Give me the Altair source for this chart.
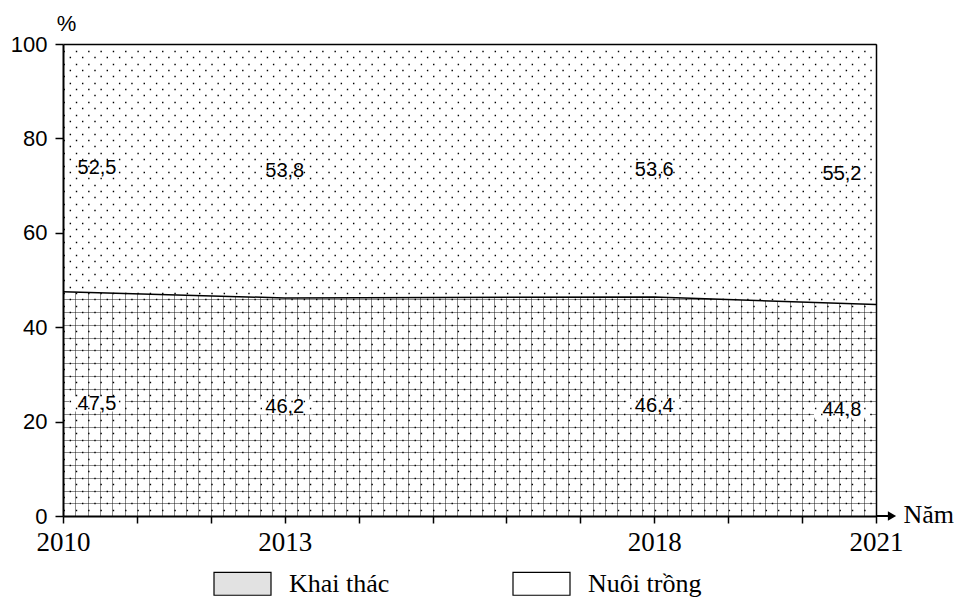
import altair as alt
import pandas as pd

# ---- data ----
years = [2010, 2013, 2018, 2021]
khai_thac = [47.5, 46.2, 46.4, 44.8]
nuoi_trong = [52.5, 53.8, 53.6, 55.2]
series = ["Khai thác", "Nuôi trồng"]
x_ticks = list(range(2010, 2022))
x_labels = [2010, 2013, 2018, 2021]
y_ticks = [0, 20, 40, 60, 80, 100]

df = pd.DataFrame({"year": years, "khai": khai_thac, "nuoi": nuoi_trong})

W, H = 813, 472
P = W / ((2021 - 2010) * 6)          # pixel spacing of the hatch columns
xgrid_vals = [2010 + i / 6 for i in range(67)]
ystep = 2.7
ygrid_vals = [round(ystep * k, 3) for k in range(1, 37)]
ydotB_vals = [round(ystep * k + ystep / 2, 3) for k in range(0, 37) if ystep * k + ystep / 2 < 99]

xscale = alt.Scale(domain=[2010, 2021], nice=False, zero=False)
yscale = alt.Scale(domain=[0, 100], nice=False)

label_expr = f"indexof({x_labels}, datum.value) >= 0 ? format(datum.value, 'd') : ''"

main_x = alt.Axis(
    orient="bottom", values=x_ticks, labelExpr=label_expr, tickSize=7, tickWidth=1.5,
    tickColor="black", domainColor="black", domainWidth=2, labelFont="Liberation Serif",
    labelFontSize=27, labelColor="black", labelPadding=6, labelFlush=False,
    labelOverlap=False, grid=False, title="Năm", titleFont="Liberation Serif",
    titleFontSize=26, titleFontWeight="normal", titleColor="black", titleX=840,
    titleY=-2, titleAlign="left", titleBaseline="middle", zindex=2,
)
main_y = alt.Axis(
    orient="left", values=y_ticks, tickSize=8, tickWidth=1.5, tickColor="black",
    domainColor="black", domainWidth=2, labelFont="Liberation Sans", labelFontSize=22,
    labelColor="black", labelPadding=8, grid=False, title="%", titleAngle=0,
    titleX=3, titleY=-21, titleAlign="center", titleBaseline="middle",
    titleFont="Liberation Sans", titleFontSize=22, titleFontWeight="normal",
    titleColor="black", zindex=2,
)
grid_common = dict(grid=True, domain=False, ticks=False, labels=False, title=None)
gridx = alt.Axis(orient="bottom", values=xgrid_vals, gridDash=[1, 1], gridColor="black",
                 gridWidth=1, gridOpacity=0.9, **grid_common)
gridy = alt.Axis(orient="left", values=ygrid_vals, gridDash=[1, 1], gridColor="black",
                 gridWidth=1, gridOpacity=0.9, **grid_common)
dotsA = alt.Axis(orient="left", values=ygrid_vals, gridDash=[1.4, P - 1.4],
                 gridDashOffset=P / 2, gridColor="black", gridWidth=1.4, zindex=1,
                 **grid_common)
dotsB = alt.Axis(orient="left", values=ydotB_vals, gridDash=[1.4, P - 1.4],
                 gridDashOffset=0, gridColor="black", gridWidth=1.4, zindex=1,
                 **grid_common)
frame_common = dict(domain=True, domainColor="black", domainWidth=1.5, ticks=False,
                    labels=False, grid=False, title=None, zindex=2)
top_x = alt.Axis(orient="top", **frame_common)
right_y = alt.Axis(orient="right", **frame_common)

base = alt.Chart(df)

lower = base.mark_area(fill="transparent").encode(
    x=alt.X("year:Q", scale=xscale, axis=main_x),
    y=alt.Y("khai:Q", scale=yscale, axis=main_y),
)

legend = alt.Legend(
    orient="none", legendX=150, legendY=510, direction="horizontal", title=None,
    symbolType="M-1,-0.4H1V0.4H-1Z", symbolSize=3249, symbolStrokeColor="black",
    symbolStrokeWidth=1.2, labelFont="Liberation Serif", labelFontSize=26,
    labelColor="black", labelOffset=17, columnPadding=120, padding=0, labelLimit=0,
)

upper = base.transform_calculate(
    top="datum.khai + datum.nuoi", series=f"'{series[1]}'"
).mark_area(fillOpacity=1).encode(
    x=alt.X("year:Q", scale=xscale, axis=gridx),
    y=alt.Y("top:Q", scale=yscale, axis=gridy),
    y2="khai:Q",
    fill=alt.Fill("series:N", scale=alt.Scale(domain=series, range=["#e2e2e2", "white"]),
                  legend=legend),
)

boundary = base.mark_line(color="black", strokeWidth=1.5).encode(
    x=alt.X("year:Q", scale=xscale, axis=top_x),
    y=alt.Y("khai:Q", scale=yscale, axis=dotsA),
)

lab = base.transform_fold(["khai", "nuoi"], as_=["key", "value"]).transform_calculate(
    mid="datum.key == 'khai' ? datum.value / 2 : datum.khai + datum.value / 2",
    lx="clamp(datum.year, 2010.46, 2020.54)",
    txt="replace(format(datum.value, '.1f'), '.', ',')",
)

boxes = lab.mark_point(shape="M-1,-0.27H1V0.27H-1Z", size=3136, filled=True, fill="white",
                       opacity=1, strokeWidth=0).encode(
    x=alt.X("lx:Q", scale=xscale, axis=None),
    y=alt.Y("mid:Q", scale=yscale, axis=dotsB),
)

texts = lab.mark_text(font="Liberation Sans", fontSize=20, color="black").encode(
    x=alt.X("lx:Q", scale=xscale, axis=None),
    y=alt.Y("mid:Q", scale=yscale, axis=right_y),
    text="txt:N",
)

arrow_df = pd.DataFrame({"a": [0]})
arrow_line = alt.Chart(arrow_df).mark_rule(color="black", strokeWidth=2).encode(
    x=alt.value(W), x2=alt.value(W + 14), y=alt.value(H)
)
arrow_head = alt.Chart(arrow_df).mark_point(
    shape="triangle-right", filled=True, color="black", size=90, opacity=1
).encode(x=alt.value(W + 16), y=alt.value(H))

chart = alt.layer(lower, upper, boundary, boxes, texts, arrow_line, arrow_head).resolve_axis(
    x="independent", y="independent"
).properties(
    width=W, height=H,
    padding={"left": 55, "top": 36, "right": 78, "bottom": 81},
    autosize=alt.AutoSizeParams(type="none"),
).configure_view(stroke=None).configure(background="white")

chart.save("out.html", embed_options={"renderer": "svg", "actions": False})
